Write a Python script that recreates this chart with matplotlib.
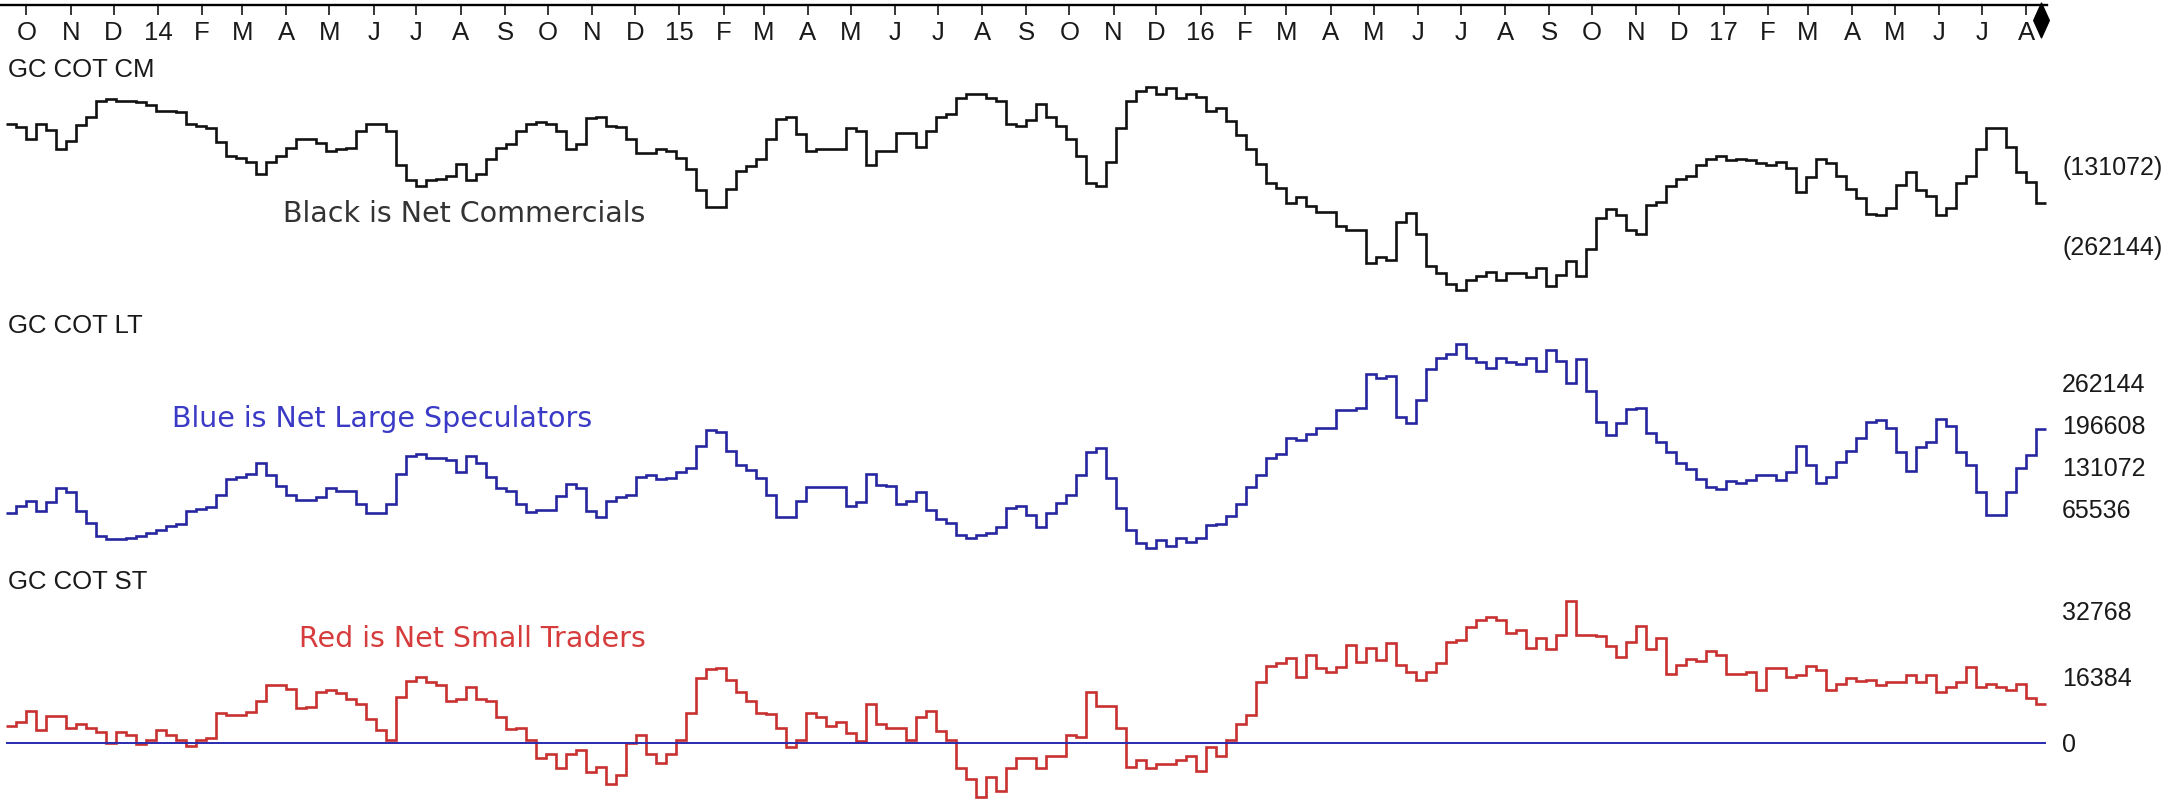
import numpy as np
import pandas as pd
import matplotlib
matplotlib.use("Agg")
import matplotlib.pyplot as plt
import matplotlib.dates as mdates
from matplotlib.path import Path

# Weekly gold COT net positions, thousands of contracts (first week 2013-09-20)
first_week = "2013-09-20"

net_commercials = [
    -63.2, -69.2, -88.0, -64.7, -73.0, -104.5, -91.0, -65.5, -51.9, -25.6,
    -23.4, -25.6, -25.6, -27.1, -33.1, -42.9, -42.9, -44.4, -63.2, -67.0,
    -70.7, -93.3, -115.8, -119.6, -125.6, -145.9, -125.6, -115.8, -103.0, -88.0,
    -88.0, -94.8, -108.3, -104.5, -103.0, -76.0, -63.2, -63.2, -76.0, -130.8,
    -155.6, -164.7, -155.6, -153.4, -149.6, -129.3, -155.6, -145.9, -121.1, -103.0,
    -97.0, -76.0, -64.7, -61.0, -64.7, -76.0, -104.5, -97.0, -53.4, -51.9,
    -67.0, -68.5, -88.0, -112.1, -110.6, -104.5, -108.3, -119.6, -138.4, -172.2,
    -200.7, -200.7, -170.7, -140.6, -133.1, -121.1, -88.0, -55.7, -51.9, -80.5,
    -108.3, -104.5, -104.5, -104.5, -70.7, -76.0, -130.8, -108.3, -108.3, -78.2,
    -78.2, -100.8, -76.0, -51.9, -48.2, -21.9, -14.3, -14.3, -21.9, -25.6,
    -63.2, -67.0, -58.0, -30.9, -51.9, -67.0, -88.0, -115.8, -160.9, -164.7,
    -125.6, -70.7, -25.6, -10.6, -3.1, -14.3, -5.3, -21.9, -14.3, -20.4,
    -42.9, -38.4, -59.4, -82.0, -104.5, -129.3, -160.9, -168.4, -193.2, -183.5,
    -198.5, -207.5, -207.5, -230.8, -238.3, -238.3, -291.0, -281.2, -286.4, -224.8,
    -209.8, -243.6, -296.2, -307.5, -326.3, -336.0, -318.7, -313.5, -306.0, -318.7,
    -307.5, -307.5, -315.0, -300.0, -328.5, -311.2, -288.7, -313.5, -268.4, -217.3,
    -203.8, -213.5, -238.3, -243.6, -196.2, -191.0, -166.2, -153.4, -149.6, -130.8,
    -121.1, -115.8, -123.3, -121.1, -123.3, -127.1, -130.8, -125.6, -136.1, -175.9,
    -151.1, -121.1, -128.6, -149.6, -170.7, -185.7, -211.3, -213.5, -202.2, -163.2,
    -142.1, -172.2, -181.2, -213.5, -202.2, -160.9, -149.6, -104.5, -70.7, -70.7,
    -100.8, -142.1, -158.7, -193.2,
]

net_large_specs = [
    57.0, 69.2, 76.3, 60.5, 74.9, 96.3, 90.6, 60.5, 42.6, 21.2,
    17.6, 17.6, 19.0, 22.6, 26.2, 31.9, 37.6, 40.5, 60.5, 64.1,
    67.7, 85.6, 110.7, 114.2, 119.2, 135.7, 117.8, 99.9, 85.6, 78.4,
    78.4, 82.0, 96.3, 92.8, 92.8, 71.3, 57.0, 57.0, 71.3, 119.2,
    146.5, 150.0, 142.9, 142.9, 140.7, 121.4, 146.5, 135.7, 114.2, 96.3,
    92.8, 71.3, 59.1, 62.0, 62.0, 83.5, 103.5, 96.3, 60.5, 51.2,
    76.3, 82.0, 85.6, 114.2, 116.4, 110.7, 112.1, 121.4, 128.5, 162.2,
    188.0, 183.7, 155.0, 132.1, 125.0, 112.1, 85.6, 51.2, 51.2, 76.3,
    97.8, 97.8, 97.8, 97.8, 69.2, 74.9, 119.2, 102.1, 99.9, 71.3,
    76.3, 90.6, 62.0, 47.7, 42.6, 23.3, 19.0, 23.3, 26.2, 35.5,
    66.3, 69.2, 54.8, 35.5, 57.0, 73.4, 85.6, 117.8, 152.2, 159.3,
    112.1, 66.3, 30.5, 10.4, 3.3, 15.4, 6.9, 19.0, 11.9, 19.0,
    39.1, 40.5, 53.4, 71.3, 97.8, 117.8, 142.9, 150.0, 175.1, 171.5,
    180.8, 190.8, 190.8, 218.0, 218.0, 221.6, 275.3, 268.1, 271.7, 207.3,
    198.0, 233.8, 282.4, 300.3, 305.4, 321.8, 300.3, 293.2, 283.9, 300.3,
    293.2, 289.6, 300.3, 278.9, 312.5, 295.3, 261.0, 298.2, 248.1, 200.1,
    178.7, 198.0, 219.5, 221.6, 182.2, 167.9, 152.2, 135.7, 126.4, 110.7,
    97.8, 94.9, 107.1, 104.9, 109.2, 116.4, 116.4, 109.2, 121.4, 162.2,
    132.1, 104.9, 114.2, 137.9, 155.0, 175.1, 200.1, 202.3, 190.8, 152.2,
    123.5, 160.8, 167.9, 205.1, 193.0, 152.2, 132.1, 90.6, 54.8, 54.8,
    90.6, 128.5, 147.9, 189.4,
]

net_small_traders = [
    4.1, 5.2, 8.0, 3.2, 6.6, 6.6, 3.8, 4.6, 3.8, 2.7,
    0.1, 2.7, 2.0, -0.2, 0.7, 3.2, 2.0, 0.7, -0.7, 0.7,
    1.3, 7.5, 6.9, 6.9, 7.7, 10.3, 14.2, 14.2, 13.3, 8.6,
    8.8, 12.5, 13.1, 12.2, 10.9, 9.5, 5.8, 3.2, 0.7, 11.4,
    15.4, 16.3, 15.1, 14.2, 10.3, 10.9, 13.7, 10.9, 10.3, 6.3,
    3.5, 3.8, 0.7, -3.6, -2.7, -6.1, -2.7, -1.8, -7.2, -5.9,
    -10.1, -7.8, 0.1, 2.0, -2.7, -5.0, -2.7, 0.7, 7.5, 15.9,
    18.2, 18.5, 15.6, 12.5, 10.3, 7.5, 7.2, 3.8, -1.0, 0.7,
    7.5, 6.3, 4.1, 5.2, 2.4, 0.5, 9.7, 4.6, 3.8, 3.8,
    0.7, 6.3, 8.0, 2.9, 0.7, -6.1, -8.9, -13.4, -8.4, -11.8,
    -6.1, -3.6, -3.6, -6.1, -3.3, -3.3, 2.0, 1.6, 12.5, 9.2,
    9.2, 3.8, -5.9, -4.1, -6.1, -5.2, -5.2, -4.1, -3.3, -7.0,
    -1.0, -3.3, 0.7, 4.6, 6.9, 15.1, 19.0, 19.7, 21.0, 16.3,
    21.6, 18.5, 17.6, 18.8, 24.2, 19.9, 23.3, 20.5, 24.6, 19.3,
    17.6, 15.6, 17.6, 19.7, 25.0, 25.3, 28.7, 30.3, 31.0, 30.3,
    27.2, 27.8, 23.5, 25.8, 23.1, 26.7, 35.1, 26.7, 26.7, 26.4,
    23.8, 21.2, 25.0, 28.9, 23.1, 25.8, 17.1, 19.3, 20.8, 20.1,
    22.7, 21.6, 17.1, 17.1, 17.4, 13.1, 18.5, 18.5, 16.3, 16.7,
    19.0, 17.9, 13.1, 14.5, 15.9, 15.4, 15.6, 14.2, 15.1, 15.1,
    16.7, 15.1, 16.7, 12.5, 13.7, 15.1, 18.8, 13.7, 14.5, 13.7,
    13.1, 14.5, 11.1, 9.7,
]

month_labels = [
    "O", "N", "D",
    "14", "F", "M", "A", "M", "J", "J", "A", "S", "O", "N", "D",
    "15", "F", "M", "A", "M", "J", "J", "A", "S", "O", "N", "D",
    "16", "F", "M", "A", "M", "J", "J", "A", "S", "O", "N", "D",
    "17", "F", "M", "A", "M", "J", "J", "A",
]

black_ticks = [-131072, -262144]
blue_ticks = [262144, 196608, 131072, 65536]
red_ticks = [32768, 16384, 0]

plt.rcParams["font.family"] = ["Liberation Sans", "DejaVu Sans"]

W, H = 2178, 808
fig = plt.figure(figsize=(W / 100, H / 100), dpi=100)
fig.patch.set_facecolor("white")


def px_axes(left, top, right, bottom):
    # axes placed by pixel box (origin top-left)
    return fig.add_axes([left / W, 1 - bottom / H, (right - left) / W, (bottom - top) / H])


# time scale: 10 px per week, 1 Oct 2013 at x = 26.5 px
day_px = 10 / 7
x_anchor = mdates.date2num(pd.Timestamp("2013-10-01")) - 26.5 / day_px

weeks = mdates.date2num(pd.date_range(first_week, periods=len(net_commercials), freq="7D"))
edges = np.append(weeks - 3.5, weeks[-1] + 3.5)
month_pos = mdates.date2num(pd.date_range("2013-10-01", periods=len(month_labels), freq="MS"))

txt = "#1a1a1a"
lbl_size = 18.5
lw = 1.9


def panel(top, bottom, zero_px, per_px):
    ax = px_axes(0, top, 2055, bottom)
    ax.set_xlim(x_anchor, x_anchor + 2055 / day_px)
    ax.set_ylim((zero_px - bottom) * per_px, (zero_px - top) * per_px)
    for s in ax.spines.values():
        s.set_visible(False)
    ax.patch.set_visible(False)
    ax.tick_params(axis="x", bottom=False, labelbottom=False)
    ax.yaxis.tick_right()
    ax.tick_params(axis="y", length=0, pad=5.2, labelsize=18, labelcolor=txt)
    return ax


# --- top date axis
ax_top = px_axes(0, 5, 2047, 15)
ax_top.set_xlim(x_anchor, x_anchor + 2047 / day_px)
ax_top.set_ylim(0, 1)
ax_top.patch.set_visible(False)
for side in ["left", "right", "bottom"]:
    ax_top.spines[side].set_visible(False)
ax_top.spines["top"].set_linewidth(1.7)
ax_top.set_yticks([])
ax_top.set_xticks(month_pos, labels=month_labels)
ax_top.tick_params(axis="x", top=True, bottom=False, labeltop=False, labelbottom=True,
                   direction="in", length=7, width=1.1, pad=4, labelsize=lbl_size,
                   labelcolor=txt)
diamond = Path([(0, 1), (0.45, 0), (0, -1), (-0.45, 0), (0, 1)],
               [Path.MOVETO, Path.LINETO, Path.LINETO, Path.LINETO, Path.CLOSEPOLY])
ax_top.plot([weeks[-1]], [-0.5], marker=diamond, ms=25, color="black",
            transform=ax_top.get_xaxis_transform(), clip_on=False)

# --- commercials
ax_b = panel(78, 305, 85, 1638.4)
ax_b.stairs(np.array(net_commercials) * 1000, edges, baseline=None,
            color="#111111", lw=lw, clip_on=False)
ax_b.set_yticks(black_ticks, labels=[f"({abs(v)})" for v in black_ticks])

# --- large speculators
ax_l = panel(312, 566, 550, 1560.4)
ax_l.stairs(np.array(net_large_specs) * 1000, edges, baseline=None,
            color="#2626a0", lw=lw, clip_on=False)
ax_l.set_yticks(blue_ticks, labels=[str(v) for v in blue_ticks])

# --- small traders
ax_s = panel(568, 808, 743, 246.4)
ax_s.hlines(0, edges[0], edges[-1], color="#2a2ab0", lw=1.4)
ax_s.stairs(np.array(net_small_traders) * 1000, edges, baseline=None,
            color="#c93030", lw=lw, clip_on=False)
ax_s.set_yticks(red_ticks, labels=[str(v) for v in red_ticks])

# panel titles and notes
for name, base in [("GC COT CM", 77), ("GC COT LT", 333), ("GC COT ST", 589)]:
    fig.text(8 / W, 1 - base / H, name, fontsize=lbl_size, color=txt, va="baseline")

notes = [("Black is Net Commercials", 283, 222, "#333333"),
         ("Blue is Net Large Speculators", 172, 427, "#3a3ac6"),
         ("Red is Net Small Traders", 299, 647, "#d63c3c")]
for s, x, base, c in notes:
    fig.text(x / W, 1 - base / H, s, fontsize=20.5, color=c, va="baseline",
             family="DejaVu Sans")

fig.savefig("out.png", dpi=100, facecolor="white")
